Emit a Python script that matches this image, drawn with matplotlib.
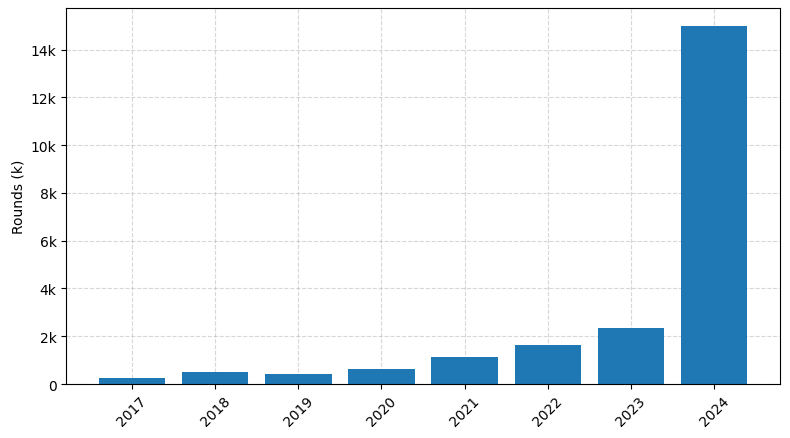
import matplotlib
matplotlib.use("Agg")
import matplotlib.pyplot as plt
from matplotlib.ticker import FuncFormatter

years = ["2017", "2018", "2019", "2020", "2021", "2022", "2023", "2024"]
rounds = [250, 500, 420, 630, 1140, 1640, 2360, 15000]

def fmt_k(v, pos):
    if v == 0:
        return "0"
    return f"{int(v/1000)}k"

fig, ax = plt.subplots(figsize=(7.9, 4.39), dpi=100)
ax.bar(years, rounds, color="#1f77b4", zorder=2)
ax.set_ylabel("Rounds (k)")
ax.yaxis.set_major_formatter(FuncFormatter(fmt_k))
ax.grid(True, linestyle="--", alpha=0.5, zorder=0)
plt.xticks(rotation=45)
fig.subplots_adjust(left=0.084, right=0.987, top=0.98, bottom=0.123)
fig.savefig("out.png")
